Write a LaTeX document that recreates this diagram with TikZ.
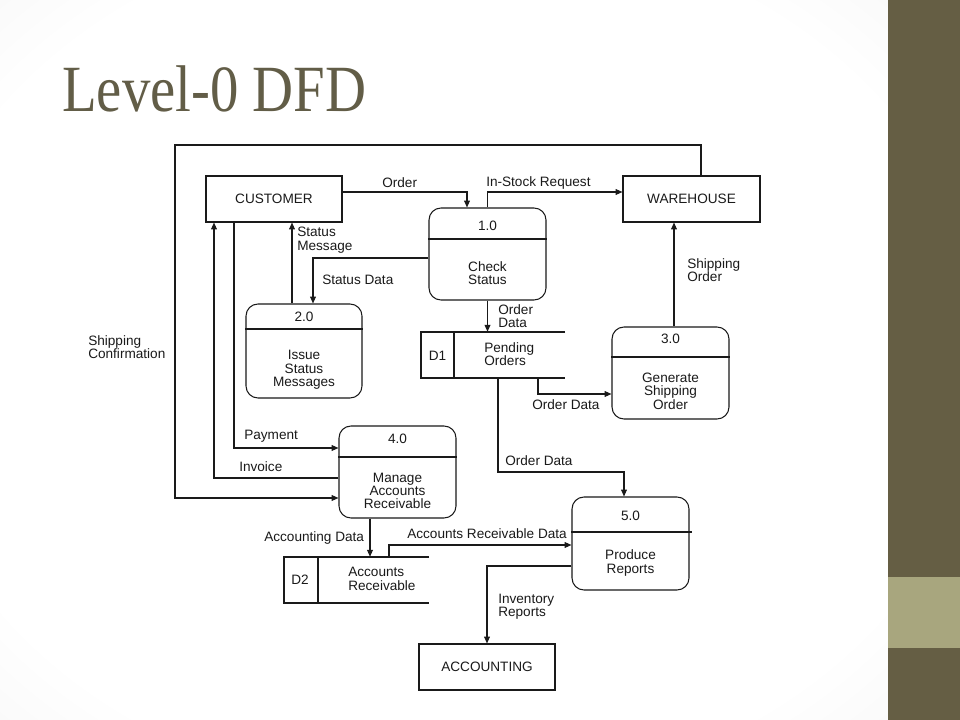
\documentclass[tikz,border=0pt]{standalone}
\usepackage{fontspec}
\setmainfont{Liberation Sans}
\newfontfamily\titlefont{Liberation Serif}
\usetikzlibrary{arrows.meta}
\definecolor{side}{HTML}{655E44}
\definecolor{band}{HTML}{A8A67E}
\definecolor{titlec}{HTML}{625D47}
\definecolor{ink}{HTML}{1A1A1A}
\pgfdeclareradialshading{vign}{\pgfpoint{0bp}{0bp}}{color(0bp)=(white); color(30bp)=(white); color(72bp)=(black!15)}
\newcommand\dfdfont{\fontsize{10.2}{10}\selectfont}
\begin{document}
\begin{tikzpicture}[x=0.75pt,y=-0.75pt,
  line/.style={draw=ink, line width=0.8pt},
  arr/.style={line, -{Triangle[length=5.2pt,width=4.4pt]}},
  ext/.style={line, inner sep=0pt, minimum width=102pt, minimum height=34.5pt, font=\dfdfont, text=ink},
  proc/.style={line, rounded corners=9pt, inner sep=0pt},
  store/.style={inner sep=0pt, minimum width=108pt, minimum height=34.5pt},
  lbl/.style={anchor=west, inner sep=0pt, align=left, font=\dfdfont, text=ink},
  ptxt/.style={inner sep=0pt, align=center, font=\dfdfont, text=ink}]
\useasboundingbox (0,0) rectangle (960,720);
% background
\shade[shading=vign] (0,0) rectangle (888,720);
\fill[side] (888,0) rectangle (960,720);
\fill[band] (888,577) rectangle (960,648);
% title
\node[anchor=base west, inner sep=0pt, text=titlec, xscale=0.86, font=\titlefont\fontsize{49.5}{50}\selectfont] (title) at (62,112) {Level-0 DFD};
% external entities
\node[ext] (cust) at (274,199) {CUSTOMER};
\node[ext, minimum width=102.75pt] (ware) at (691.5,199) {WAREHOUSE};
\node[ext] (acct) at (487,667) {ACCOUNTING};
% processes
\node[proc, minimum width=87.75pt, minimum height=69pt] (p1) at (487.5,254) {};
\draw[line] (p1.west |- 0,239) -- (p1.east |- 0,239);
\node[ptxt] (p1n) at (487.5,226) {1.0};
\node[ptxt] (p1t) at (487.5,273) {Check\\Status};
\node[proc, minimum width=87pt, minimum height=70.5pt] (p2) at (304,351) {};
\draw[line] (p2.west |- 0,329) -- (p2.east |- 0,329);
\node[ptxt] (p2n) at (304,317) {2.0};
\node[ptxt] (p2t) at (304,370) {Issue\\Status\\Messages};
\node[proc, minimum width=87.75pt, minimum height=69pt] (p3) at (670.5,373) {};
\draw[line] (p3.west |- 0,357) -- (p3.east |- 0,357);
\node[ptxt] (p3n) at (670.5,339) {3.0};
\node[ptxt] (p3t) at (670.5,391) {Generate\\Shipping\\Order};
\node[proc, minimum width=87.75pt, minimum height=69pt] (p4) at (397.5,472) {};
\draw[line] (p4.west |- 0,457) -- (p4.east |- 0,457);
\node[ptxt] (p4n) at (397.5,439) {4.0};
\node[ptxt] (p4t) at (397.5,491) {Manage\\Accounts\\Receivable};
\node[proc, minimum width=87.75pt, minimum height=69.75pt] (p5) at (630.5,543.5) {};
\draw[line] (p5.west |- 0,532) -- ([xshift=2pt]p5.east |- 0,532);
\node[ptxt] (p5n) at (630.5,516) {5.0};
\node[ptxt] (p5t) at (630.5,563) {Produce\\Reports};
% data stores
\node[store] (d1) at (493,355) {};
\draw[line] (565,332) -- (421,332) -- (421,378) -- (565,378);
\draw[line] (454,332) -- (454,378);
\node[ptxt] (d1n) at (437.5,356) {D1};
\node[lbl] (d1t) at (484,354) {Pending\\Orders};
\node[store, minimum width=108.75pt] (d2) at (356.5,580) {};
\draw[line] (429,557) -- (284,557) -- (284,603) -- (429,603);
\draw[line] (318,557) -- (318,603);
\node[ptxt] (d2n) at (300,580) {D2};
\node[lbl] (d2t) at (348,579) {Accounts\\Receivable};
% flows
\draw[arr] (cust.east |- 0,192) -| (p1.north -| 467,0);
\node[lbl] (l1) at (382,183) {Order};
\draw[arr] (p1.north) |- (ware.west |- 0,192);
\node[lbl] (l2) at (486,183) {In-Stock Request};
\draw[arr] (p1.west |- 0,258) -| (p2.north -| 313,0);
\node[lbl] (l3) at (322,280) {Status Data};
\draw[arr] (p2.north -| 292,0) -- (cust.south -| 292,0);
\node[lbl] (l4) at (297,240) {Status\\Message};
\draw[arr] (p1.south) -- (p1.south |- d1.north);
\node[lbl] (l5) at (498,316) {Order\\Data};
\draw[arr] (d1.south -| 538,0) |- (p3.west |- 0,394);
\node[lbl] (l6) at (532,405) {Order Data};
\draw[arr] (p3.north -| 674,0) -- (ware.south -| 674,0);
\node[lbl] (l7) at (687,270) {Shipping\\Order};
\draw[arr] (d1.south -| 498,0) |- (624,472) -- (p5.north -| 624,0);
\node[lbl] (l8) at (505,461) {Order Data};
\draw[arr] (ware.north -| 701,0) |- (175,145) |- (p4.west |- 0,498);
\node[lbl] (l9) at (88,347) {Shipping\\Confirmation};
\draw[arr] (cust.south -| 234,0) |- (p4.west |- 0,448);
\node[lbl] (l10) at (244,436) {Payment};
\draw[arr] (p4.west |- 0,478) -| (cust.south -| 214,0);
\node[lbl] (l11) at (239,467) {Invoice};
\draw[arr] (p4.south -| 370,0) -- (d2.north -| 370,0);
\node[lbl] (l12) at (264,538) {Accounting Data};
\draw[arr] (d2.north -| 389,0) |- (p5.west |- 0,545);
\node[lbl] (l13) at (407,534) {Accounts Receivable Data};
\draw[arr] (p5.west |- 0,566) -| (acct.north -| 487,0);
\node[lbl] (l14) at (498,607) {Inventory\\Reports};
\end{tikzpicture}
\end{document}
